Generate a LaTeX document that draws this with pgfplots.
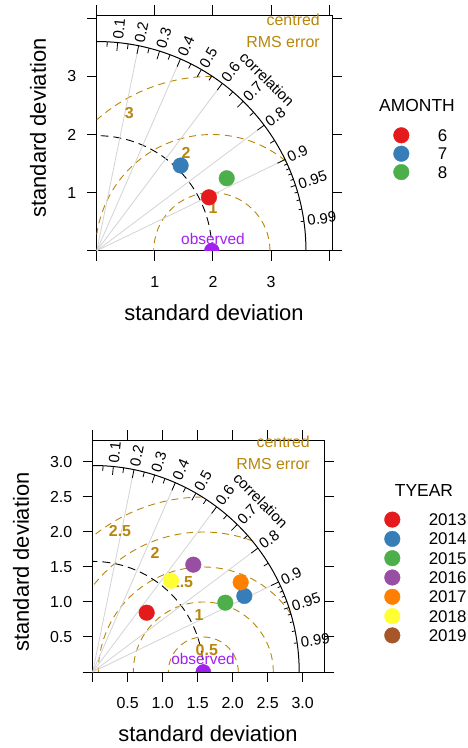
\documentclass[border=0pt]{standalone}
\usepackage{pgfplots}
\pgfplotsset{compat=1.18}
\usepackage{fontspec}
\setmainfont{Liberation Sans}
\definecolor{cA}{HTML}{E41A1C}
\definecolor{cB}{HTML}{377EB8}
\definecolor{cC}{HTML}{4DAF4A}
\definecolor{cD}{HTML}{984EA3}
\definecolor{cE}{HTML}{FF7F00}
\definecolor{cF}{HTML}{FFFF33}
\definecolor{cG}{HTML}{A65628}
\definecolor{rmscol}{HTML}{B8860B}
\definecolor{obscol}{HTML}{A020F0}
\definecolor{gridgray}{HTML}{D3D3D3}
\newcommand{\fs}[1]{\fontsize{#1}{#1}\selectfont}
\tikzset{rmsline/.style={rmscol, line width=0.9bp, dash pattern=on 7bp off 5bp},
  obsline/.style={black, line width=0.9bp, dash pattern=on 8bp off 5bp}}
\pgfplotsset{taylor/.style={
  scale only axis, anchor=south west,
  tick align=outside, major tick length=10bp,
  tick style={black, line width=1bp},
  axis line style={black, line width=1bp},
  tick label style={font=\fs{16}},
  xticklabel style={yshift=-12bp},
  yticklabel style={xshift=-7bp},
  /pgf/number format/assume math mode=true,
  clip mode=individual,
  clip marker paths=true,
  legend cell align=left,
  legend style={draw=none, fill=none, anchor=north west, font=\fs{17}, inner sep=0pt, outer sep=0pt,
     nodes={inner sep=0pt, text height=12bp, text depth=0pt}},
  legend image code/.code={\path[draw=none, fill=none] (0bp,-7.5bp) rectangle (44bp,7.5bp); \draw[##1] plot coordinates {(7.5bp,0bp)};},
}}
\begin{document}
\begin{tikzpicture}
\path[use as bounding box] (0bp,0bp) rectangle (468bp,748bp);
% ---------------- top panel ----------------
\begin{axis}[taylor,
  at={(96.8bp,497.3bp)}, width=235.3bp, height=235.3bp,
  xmin=0, xmax=4.05, ymin=0, ymax=4.05,
  xtick={0,1,2,3,4}, xticklabels={,1,2,3,},
  ytick={0,1,2,3,4}, yticklabels={,1,2,3,},
  legend style={at={(1.261,0.5236)}, row sep=2.8bp},
]
% centred RMS error arcs
\draw[rmsline] (axis cs:2.98,0) arc[start angle=0, end angle=180, radius=58.1bp];
\draw[rmsline] (axis cs:1.98,0) ++(50.48:116.2bp) arc[start angle=50.48, end angle=171.89, radius=116.2bp];
\draw[rmsline] (axis cs:1.98,0) ++(89.81:174.3bp) arc[start angle=89.81, end angle=131.30, radius=174.3bp];
% observed sd arc
\draw[obsline] (axis cs:0,0) ++(0:115.04bp) arc[start angle=0, end angle=90, radius=115.04bp];
% correlation lines
\pgfplotsinvokeforeach{0.2,0.4,0.6,0.8,0.9}{
  \draw[gridgray, line width=0.8bp] (axis cs:0,0) -- ++({acos(#1)}:209.16bp);
}
% correlation arc and ticks
\draw[black, line width=1bp] (axis cs:0,0) ++(0:209.16bp) arc[start angle=0, end angle=90, radius=209.16bp];
\pgfplotsinvokeforeach{0.1,0.2,0.3,0.4,0.5,0.6,0.7,0.8,0.9}{
  \draw[black, line width=0.8bp] (axis cs:0,0) ++({acos(#1)}:200.8bp) -- ++({acos(#1)}:8.4bp);
}
\pgfplotsinvokeforeach{0.05,0.15,0.25,0.35,0.45,0.55,0.65,0.75,0.85,0.95}{
  \draw[black, line width=0.8bp] (axis cs:0,0) ++({acos(#1)}:204.0bp) -- ++({acos(#1)}:5.2bp);
}
\pgfplotsinvokeforeach{0.91,0.92,0.93,0.94,0.96,0.97,0.98,0.99}{
  \draw[black, line width=0.8bp] (axis cs:0,0) ++({acos(#1)}:206.0bp) -- ++({acos(#1)}:3.2bp);
}
\pgfplotsinvokeforeach{0.1,0.2,0.3,0.4,0.5,0.6,0.7,0.8,0.9,0.95,0.99}{
  \path (axis cs:0,0) ++({acos(#1)}:212bp) node[anchor=west, rotate={acos(#1)}, font=\fs{15}, inner sep=0.5bp] {#1};
}
\node[rotate=-45, font=\fs{15}] at (axis cs:2.93,2.95) {correlation};
\node[anchor=base east, rmscol, font=\fs{16}, inner sep=0pt] at (axis cs:3.842,3.868) {centred};
\node[anchor=base east, rmscol, font=\fs{16}, inner sep=0pt] at (axis cs:3.842,3.489) {RMS error};
\node[rmscol, font=\bfseries\fs{16}] at (axis cs:2.0,0.735) {1};
\node[rmscol, font=\bfseries\fs{16}] at (axis cs:1.535,1.68) {2};
\node[rmscol, font=\bfseries\fs{16}] at (axis cs:0.56,2.365) {3};
\node[obscol, font=\fs{15.5}] at (axis cs:2.0,0.207) {observed};
% data
\addplot[only marks, mark=*, obscol, mark size=7.5bp, forget plot] coordinates {(1.98,0)};
\addplot[only marks, mark=*, cA, mark size=7.8bp] coordinates {(1.931,0.919)};
\addlegendentry{6}
\addplot[only marks, mark=*, cB, mark size=7.8bp] coordinates {(1.443,1.466)};
\addlegendentry{7}
\addplot[only marks, mark=*, cC, mark size=7.8bp] coordinates {(2.236,1.247)};
\addlegendentry{8}
\end{axis}
\node[font=\fs{17.5}] at (417bp,642bp) {AMONTH};
\node[font=\fs{22}] at (214bp,435bp) {standard deviation};
\node[font=\fs{22}, rotate=90] at (38bp,620bp) {standard deviation};
% ---------------- bottom panel ----------------
\begin{axis}[taylor,
  at={(92.7bp,76bp)}, width=231.7bp, height=231.7bp,
  xmin=0, xmax=3.31, ymin=0, ymax=3.31,
  xtick={0,0.5,1,1.5,2,2.5,3}, xticklabels={,0.5,1.0,1.5,2.0,2.5,3.0},
  ytick={0,0.5,1,1.5,2,2.5,3}, yticklabels={,0.5,1.0,1.5,2.0,2.5,3.0},
  legend style={at={(1.2594,0.6914)}, row sep=3.7bp},
]
\draw[rmsline] (axis cs:2.08,0) arc[start angle=0, end angle=180, radius=35bp];
\draw[rmsline] (axis cs:2.58,0) arc[start angle=0, end angle=180, radius=70bp];
\draw[rmsline] (axis cs:1.58,0) ++(33.42:105bp) arc[start angle=33.42, end angle=180, radius=105bp];
\draw[rmsline] (axis cs:1.58,0) ++(69.57:140bp) arc[start angle=69.57, end angle=142.19, radius=140bp];
\draw[rmsline] (axis cs:1.58,0) ++(90.32:175bp) arc[start angle=90.32, end angle=129.20, radius=175bp];
\draw[obsline] (axis cs:0,0) ++(0:110.6bp) arc[start angle=0, end angle=90, radius=110.6bp];
\pgfplotsinvokeforeach{0.2,0.4,0.6,0.8,0.9}{
  \draw[gridgray, line width=0.8bp] (axis cs:0,0) -- ++({acos(#1)}:206.5bp);
}
\draw[black, line width=1bp] (axis cs:0,0) ++(0:206.5bp) arc[start angle=0, end angle=90, radius=206.5bp];
\pgfplotsinvokeforeach{0.1,0.2,0.3,0.4,0.5,0.6,0.7,0.8,0.9}{
  \draw[black, line width=0.8bp] (axis cs:0,0) ++({acos(#1)}:198.2bp) -- ++({acos(#1)}:8.3bp);
}
\pgfplotsinvokeforeach{0.05,0.15,0.25,0.35,0.45,0.55,0.65,0.75,0.85,0.95}{
  \draw[black, line width=0.8bp] (axis cs:0,0) ++({acos(#1)}:201.3bp) -- ++({acos(#1)}:5.2bp);
}
\pgfplotsinvokeforeach{0.91,0.92,0.93,0.94,0.96,0.97,0.98,0.99}{
  \draw[black, line width=0.8bp] (axis cs:0,0) ++({acos(#1)}:203.3bp) -- ++({acos(#1)}:3.2bp);
}
\pgfplotsinvokeforeach{0.1,0.2,0.3,0.4,0.5,0.6,0.7,0.8,0.9,0.95,0.99}{
  \path (axis cs:0,0) ++({acos(#1)}:209.5bp) node[anchor=west, rotate={acos(#1)}, font=\fs{15}, inner sep=0.5bp] {#1};
}
\node[rotate=-45, font=\fs{15}] at (axis cs:2.40,2.45) {correlation};
\node[anchor=base east, rmscol, font=\fs{16}, inner sep=0pt] at (axis cs:3.104,3.214) {centred};
\node[anchor=base east, rmscol, font=\fs{16}, inner sep=0pt] at (axis cs:3.104,2.886) {RMS error};
\node[rmscol, font=\bfseries\fs{16}] at (axis cs:1.63,0.31) {0.5};
\node[rmscol, font=\bfseries\fs{16}] at (axis cs:1.52,0.81) {1};
\node[rmscol, font=\bfseries\fs{16}] at (axis cs:1.276,1.286) {1.5};
\node[rmscol, font=\bfseries\fs{16}] at (axis cs:0.89,1.70) {2};
\node[rmscol, font=\bfseries\fs{16}] at (axis cs:0.39,2.01) {2.5};
\node[obscol, font=\fs{15.5}] at (axis cs:1.576,0.186) {observed};
\addplot[only marks, mark=*, obscol, mark size=7.5bp, forget plot] coordinates {(1.58,0)};
\addplot[only marks, mark=*, cA, mark size=7.8bp] coordinates {(0.771,0.847)};
\addlegendentry{2013}
\addplot[only marks, mark=*, cB, mark size=7.8bp] coordinates {(2.166,1.086)};
\addlegendentry{2014}
\addplot[only marks, mark=*, cC, mark size=7.8bp] coordinates {(1.894,0.990)};
\addlegendentry{2015}
\addplot[only marks, mark=*, cD, mark size=7.8bp] coordinates {(1.437,1.533)};
\addlegendentry{2016}
\addplot[only marks, mark=*, cE, mark size=7.8bp] coordinates {(2.114,1.281)};
\addlegendentry{2017}
\addplot[only marks, mark=*, cF, mark size=7.8bp] coordinates {(1.119,1.304)};
\addlegendentry{2018}
\addlegendimage{only marks, mark=*, cG, mark size=7.8bp}
\addlegendentry{2019}
\end{axis}
\node[font=\fs{17.5}] at (424bp,257bp) {TYEAR};
\node[font=\fs{22}] at (208bp,14bp) {standard deviation};
\node[font=\fs{22}, rotate=90] at (21bp,186bp) {standard deviation};
\end{tikzpicture}
\end{document}
